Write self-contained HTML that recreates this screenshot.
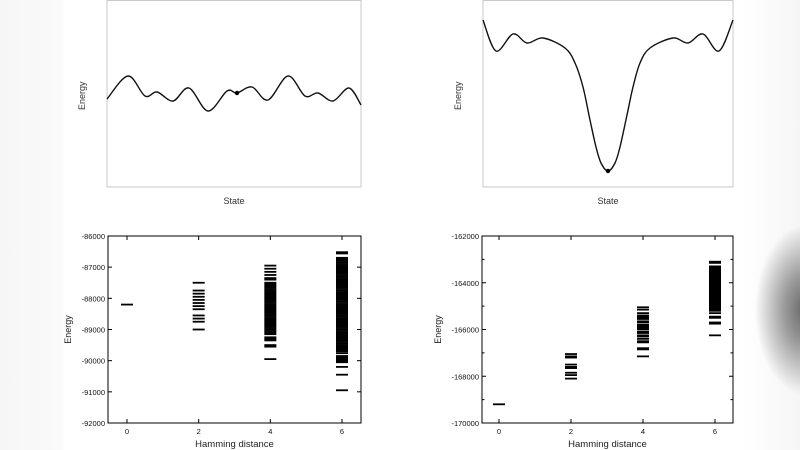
<!DOCTYPE html>
<html><head><meta charset="utf-8"><style>
html,body{margin:0;padding:0;width:800px;height:450px;overflow:hidden;background:#fff;font-family:"Liberation Sans",sans-serif}
#bg{position:absolute;left:0;top:0;width:800px;height:450px}
svg{position:absolute;left:0;top:0}
text{font-family:"Liberation Sans",sans-serif}
</style></head><body>
<div id="bg" style="background:radial-gradient(ellipse 50px 85px at 805px 310px,#666 0%,#999 40%,rgba(255,255,255,0) 100%),linear-gradient(90deg,#f6f6f6 0px,#fafafa 60px,#fff 66px,#fff 740px,#f6f6f6 800px)"></div>
<svg id="chart" width="800" height="450" viewBox="0 0 800 450"></svg>
<script>
// Top-left rugged landscape: state positions and energies (arbitrary units, higher = higher energy)
const ruggedState=[0,21,38,50,66,82,101,120,130,145,161,181,198,211,226,242,254];
const ruggedEnergy=[88,111,91,95,86,99,76,96,94,100,87,111,91,94,86,99,82];
const ruggedDot=[130,94];
// Top-right funnel landscape
const funnelState=[0,13,30,44,60,82,92,100,107,113,118,125,132,137,144,150,157,167,190,205,220,236,250];
const funnelEnergy=[167,136,153,144,149,139,124,100,67,40,24,16,24,40,72,100,124,139,149,144,153,136,167];
const funnelDot=[125,16];
// Bottom-left: Hamming distance vs energy
const leftHam0=[-88200];
const leftHam2=[-87500,-87750,-87850,-87950,-88050,-88150,-88250,-88350,-88550,-88650,-88750,-89000];
const leftHam4=[-86950,-87050,-87150,-87250,-87350,-87400,-87500,-87550,-87600,-87650,-87700,-87750,-87800,-87850,-87900,-87950,-88000,-88050,-88100,-88150,-88200,-88250,-88300,-88350,-88400,-88450,-88500,-88550,-88600,-88650,-88700,-88750,-88800,-88850,-88900,-88950,-89000,-89050,-89100,-89150,-89250,-89300,-89350,-89500,-89550,-89950];
const leftHam6=[-86520,-86560,-86700,-86750,-86800,-86850,-86900,-86950,-87000,-87050,-87100,-87150,-87200,-87250,-87300,-87350,-87400,-87450,-87500,-87550,-87600,-87650,-87700,-87750,-87800,-87850,-87900,-87950,-88000,-88050,-88100,-88150,-88200,-88250,-88300,-88350,-88400,-88450,-88500,-88550,-88600,-88650,-88700,-88750,-88800,-88850,-88900,-88950,-89000,-89050,-89100,-89150,-89200,-89250,-89300,-89350,-89400,-89450,-89500,-89550,-89600,-89650,-89700,-89760,-89850,-89900,-89950,-90000,-90050,-90200,-90450,-90950];
const leftYTicks=[-86000,-87000,-88000,-89000,-90000,-91000,-92000];
const xTicks=[0,2,4,6];
// Bottom-right
const rightHam0=[-169200];
const rightHam2=[-167050,-167150,-167200,-167500,-167600,-167650,-167850,-167950,-168100];
const rightHam4=[-165050,-165150,-165300,-165400,-165450,-165500,-165550,-165650,-165700,-165800,-165850,-165900,-165950,-166000,-166100,-166150,-166250,-166300,-166400,-166500,-166550,-166800,-166850,-167150];
const rightHam6=[-163100,-163150,-163300,-163350,-163400,-163450,-163500,-163550,-163600,-163650,-163700,-163750,-163800,-163850,-163900,-163950,-164000,-164050,-164100,-164150,-164200,-164250,-164300,-164350,-164400,-164450,-164500,-164550,-164600,-164650,-164700,-164750,-164800,-164850,-164900,-164950,-165000,-165050,-165100,-165150,-165200,-165300,-165450,-165500,-165700,-165750,-166250];
const rightYTicks=[-162000,-164000,-166000,-168000,-170000];
const rightMinorTicks=[-163000,-165000,-167000,-169000];

const NS="http://www.w3.org/2000/svg";
const svg=document.getElementById('chart');
function mk(tag,attrs,parent){const e=document.createElementNS(NS,tag);for(const k in attrs)e.setAttribute(k,attrs[k]);(parent||svg).appendChild(e);return e;}
function smooth(pts){let d='M'+pts[0][0]+','+pts[0][1];for(let i=0;i<pts.length-1;i++){const p0=pts[i-1]||pts[i],p1=pts[i],p2=pts[i+1],p3=pts[i+2]||p2;const c1x=p1[0]+(p2[0]-p0[0])/6,c1y=p1[1]+(p2[1]-p0[1])/6,c2x=p2[0]-(p3[0]-p1[0])/6,c2y=p2[1]-(p3[1]-p1[1])/6;d+=' C'+c1x+','+c1y+' '+c2x+','+c2y+' '+p2[0]+','+p2[1];}return d;}

function landscape(box,states,energies,dot,name){
  const g=mk('g',{});
  
  
  const sx=s=>box.x0+s, sy=e=>box.y1-e;
  const fr=mk('rect',{x:box.x0,y:box.y0,width:box.x1-box.x0,height:box.y1-box.y0,fill:'none',stroke:'#c8c8c8','stroke-width':1},g);
  
  
  const pts=states.map((s,i)=>[sx(s),sy(energies[i])]);
  const p=mk('path',{d:smooth(pts),fill:'none',stroke:'#111','stroke-width':1.4},g);
  
  
  const c=mk('circle',{cx:sx(dot[0]),cy:sy(dot[1]),r:2.2,fill:'#000'},g);
  
  
  const yl=mk('text',{x:0,y:0,transform:`translate(${box.x0-22},${(box.y0+box.y1)/2+2}) rotate(-90)`,'text-anchor':'middle','font-size':9,fill:'#333'},g);
  yl.textContent='Energy';
  
  
  const xl=mk('text',{x:(box.x0+box.x1)/2,y:box.y1+17,'text-anchor':'middle','font-size':9,fill:'#333'},g);
  xl.textContent='State';
  
  
}
landscape({x0:107,x1:361,y0:0.5,y1:187},ruggedState,ruggedEnergy,ruggedDot,'rugged-landscape-panel');
landscape({x0:483,x1:733,y0:0.5,y1:187},funnelState,funnelEnergy,funnelDot,'funnel-landscape-panel');

function scatter(box,ymin,ymax,x0px,x6px,series,yTicks,minor,name,titleX){
  const g=mk('g',{});
  
  
  const X=v=>x0px+(x6px-x0px)*v/6, Y=v=>box.y0+(ymax-v)/(ymax-ymin)*(box.y1-box.y0);
  const fr=mk('rect',{x:box.x0,y:box.y0,width:box.x1-box.x0,height:box.y1-box.y0,fill:'none',stroke:'#000','stroke-width':1},g);
  
  
  yTicks.forEach(t=>{
    const y=Y(t);
    mk('line',{x1:box.x0,x2:box.x0+4,y1:y,y2:y,stroke:'#000'},g);
    mk('line',{x1:box.x1,x2:box.x1-4,y1:y,y2:y,stroke:'#000'},g);
    const tl=mk('text',{x:box.x0-3,y:y+3,'text-anchor':'end','font-size':7.5,fill:'#111'},g);
    tl.textContent=t;
    
    
  });
  minor.forEach(t=>{const y=Y(t);mk('line',{x1:box.x0,x2:box.x0+2.5,y1:y,y2:y,stroke:'#000'},g);mk('line',{x1:box.x1,x2:box.x1-2.5,y1:y,y2:y,stroke:'#000'},g);});
  xTicks.forEach(t=>{
    const x=X(t);
    mk('line',{x1:x,x2:x,y1:box.y1,y2:box.y1-4,stroke:'#000'},g);
    mk('line',{x1:x,x2:x,y1:box.y0,y2:box.y0+4,stroke:'#000'},g);
    const tl=mk('text',{x:x,y:box.y1+11,'text-anchor':'middle','font-size':7.5,fill:'#111'},g);
    tl.textContent=t;
    
    
  });
  series.forEach((vals,i)=>{
    const h=xTicks[i], x=X(h);
    const sg=mk('g',{},g);
    
    
    vals.forEach(v=>{mk('line',{x1:x-6,x2:x+6,y1:Y(v),y2:Y(v),stroke:'#000','stroke-width':1.8},sg);});
  });
  const yl=mk('text',{x:0,y:0,transform:`translate(${titleX},${(box.y0+box.y1)/2}) rotate(-90)`,'text-anchor':'middle','font-size':9,fill:'#222'},g);
  yl.textContent='Energy';
  
  
  const xl=mk('text',{x:(box.x0+box.x1)/2,y:box.y1+24,'text-anchor':'middle','font-size':9.5,fill:'#222'},g);
  xl.textContent='Hamming distance';
  
  
}
scatter({x0:108,x1:361,y0:236,y1:423},-92000,-86000,127,342,[leftHam0,leftHam2,leftHam4,leftHam6],leftYTicks,[],'rugged-hamming-panel',71);
scatter({x0:482,x1:733,y0:236,y1:423},-170000,-162000,499,715,[rightHam0,rightHam2,rightHam4,rightHam6],rightYTicks,rightMinorTicks,'funnel-hamming-panel',441);
</script>
</body></html>
